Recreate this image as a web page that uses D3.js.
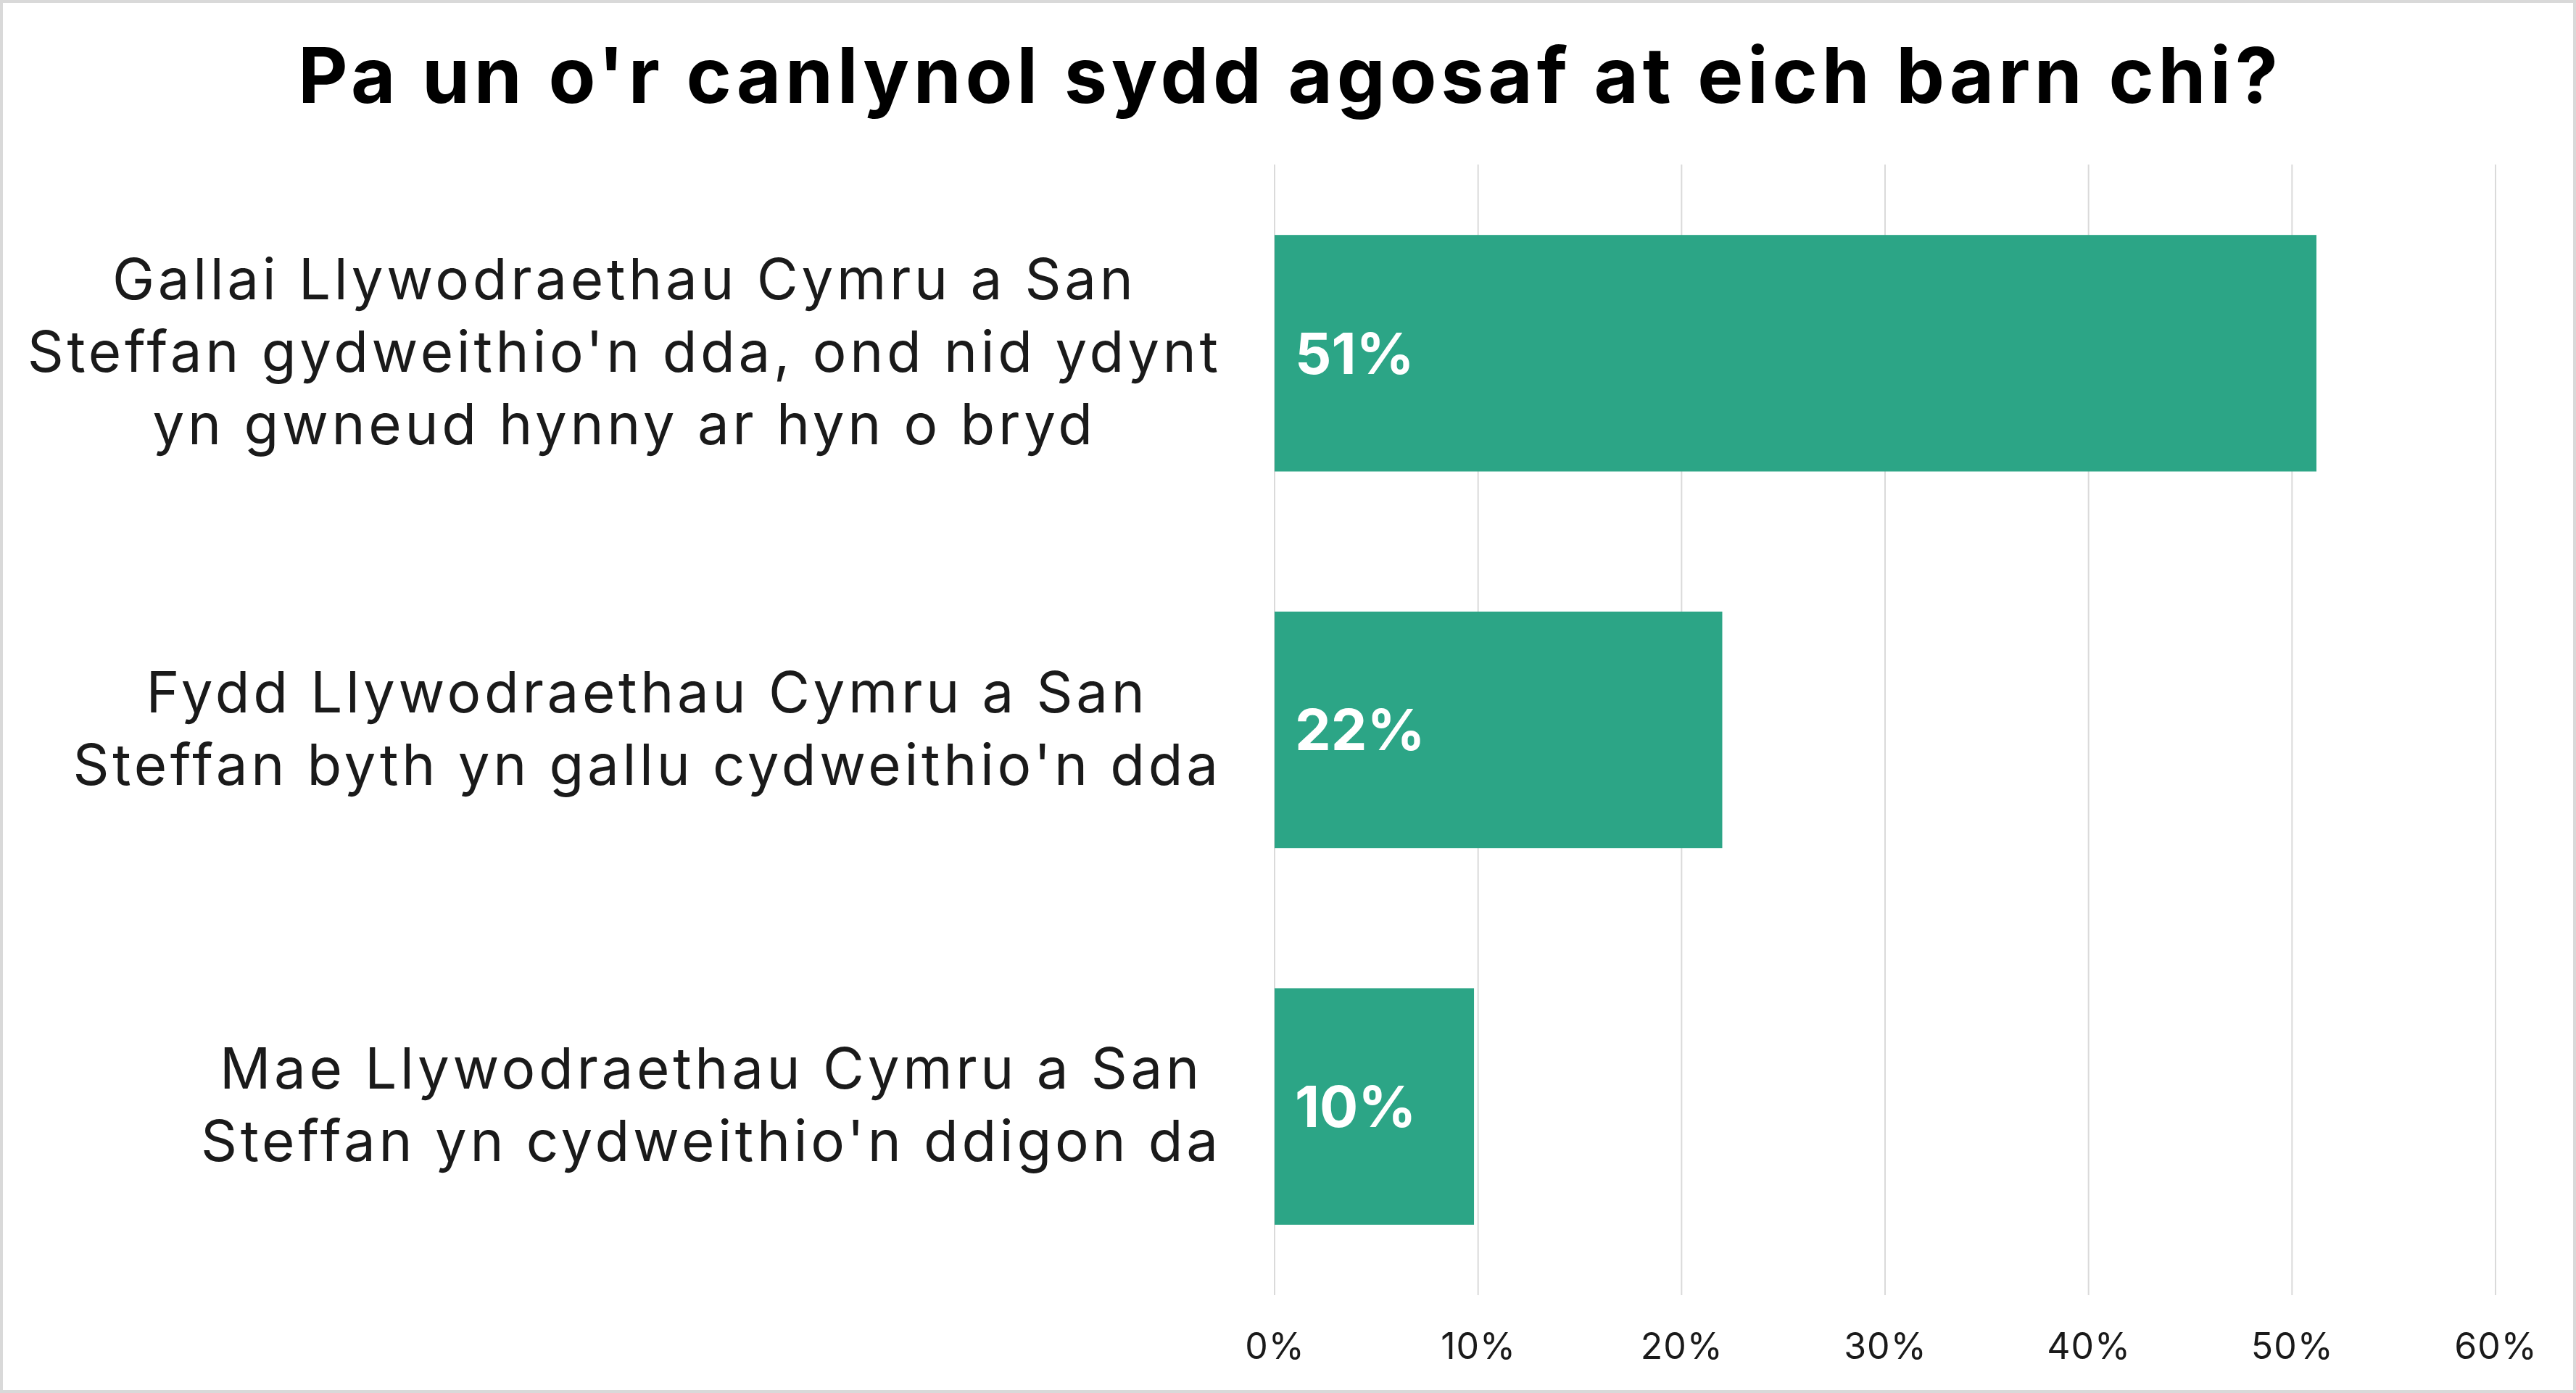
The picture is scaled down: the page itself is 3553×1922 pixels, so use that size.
<!DOCTYPE html>
<html>
<head>
<meta charset="utf-8">
<script src="https://cdn.jsdelivr.net/npm/d3@7"></script>
<style>
  html, body { margin: 0; padding: 0; background: #ffffff; }
  svg { display: block; }
</style>
</head>
<body>
<div id="chart"></div>
<script>
// ---------- data ----------
const titleText = "Pa un o'r canlynol sydd agosaf at eich barn chi?";
const categories = [
  "Gallai Llywodraethau Cymru a San Steffan gydweithio'n dda, ond nid ydynt yn gwneud hynny ar hyn o bryd",
  "Fydd Llywodraethau Cymru a San Steffan byth yn gallu cydweithio'n dda",
  "Mae Llywodraethau Cymru a San Steffan yn cydweithio'n ddigon da"
];
const categoryLines = [
  ["Gallai Llywodraethau Cymru a San", "Steffan gydweithio'n dda, ond nid ydynt", "yn gwneud hynny ar hyn o bryd"],
  ["Fydd Llywodraethau Cymru a San", "Steffan byth yn gallu cydweithio'n dda"],
  ["Mae Llywodraethau Cymru a San", "Steffan yn cydweithio'n ddigon da"]
];
const values = [51.2, 22.0, 9.8];
const valueLabels = ["51%", "22%", "10%"];
const tickValues = [0, 10, 20, 30, 40, 50, 60];
const tickLabels = ["0%", "10%", "20%", "30%", "40%", "50%", "60%"];

// ---------- layout ----------
const W = 3553, H = 1922;
const FONT = "Inter, 'Open Sans', 'Noto Sans', sans-serif";
const plotLeft = 1758, plotRight = 3442, plotTop = 227, plotBottom = 1787;
const barColor = "#2ca586";
const gridColor = "#dadada";

const svg = d3.select("#chart").append("svg")
  .attr("width", W).attr("height", H)
  .attr("viewBox", `0 0 ${W} ${H}`);

svg.append("rect")
  .attr("x", 2).attr("y", 2).attr("width", W - 4).attr("height", H - 4)
  .attr("fill", "#ffffff").attr("stroke", "#d9d9d9").attr("stroke-width", 4);

const x = d3.scaleLinear().domain([0, 60]).range([plotLeft, plotRight]);
const y = d3.scaleBand().domain(categories).range([plotTop, plotBottom])
  .paddingInner(0.372).paddingOuter(0.187);

// gridlines
svg.append("g").selectAll("line").data(tickValues).join("line")
  .attr("x1", d => x(d)).attr("x2", d => x(d))
  .attr("y1", plotTop).attr("y2", plotBottom)
  .attr("stroke", gridColor).attr("stroke-width", 2);

// x axis tick labels
const xAxis = d3.axisBottom(x)
  .tickValues(tickValues)
  .tickFormat((d, i) => tickLabels[i])
  .tickSize(0).tickPadding(52);
const gx = svg.append("g").attr("transform", `translate(0,${plotBottom})`).call(xAxis);
gx.select(".domain").remove();
gx.selectAll("text")
  .attr("font-family", FONT).attr("font-size", 50).attr("fill", "#1a1a1a")
  .attr("letter-spacing", 1);

// bars
svg.append("g").selectAll("rect").data(values).join("rect")
  .attr("x", x(0))
  .attr("y", (d, i) => y(categories[i]))
  .attr("width", d => x(d) - x(0))
  .attr("height", y.bandwidth())
  .attr("fill", barColor);

// value labels
svg.append("g").selectAll("text").data(valueLabels).join("text")
  .attr("x", x(0) + 28)
  .attr("y", (d, i) => y(categories[i]) + y.bandwidth() / 2)
  .attr("dy", "0.36em")
  .attr("font-family", FONT).attr("font-weight", 700).attr("font-size", 79)
  .attr("fill", "#ffffff")
  .text(d => d);

// category labels (block right-aligned, lines centred)
const labelRight = 1680;
const lineGap = 100;
const catFont = 78;
const catTargetWidth = 1647; // width of the longest line
const catG = svg.append("g");
const allCatTexts = [];
categoryLines.forEach((lines, i) => {
  const cy = y(categories[i]) + y.bandwidth() / 2;
  const texts = catG.append("g").selectAll("text").data(lines).join("text")
    .attr("font-family", FONT).attr("font-size", catFont).attr("fill", "#1a1a1a")
    .attr("text-anchor", "middle")
    .attr("y", (d, j) => cy + (j - (lines.length - 1) / 2) * lineGap)
    .attr("dy", "0.33em")
    .text(d => d);
  allCatTexts.push(texts);
});
// widen letter spacing so the longest line matches the reference width
let longest = null, longestW = 0;
allCatTexts.forEach(t => t.each(function () {
  const w = this.getComputedTextLength();
  if (w > longestW) { longestW = w; longest = this; }
}));
const catLS = (catTargetWidth - longestW) / longest.textContent.length;
allCatTexts.forEach(texts => {
  texts.attr("letter-spacing", catLS);
  let maxW = 0;
  texts.each(function () { maxW = Math.max(maxW, this.getComputedTextLength() - catLS); });
  texts.attr("x", labelRight - maxW / 2 + catLS / 2);
});

// title
const title = svg.append("text")
  .attr("x", W / 2).attr("y", 142)
  .attr("text-anchor", "middle")
  .attr("font-family", FONT).attr("font-weight", 700).attr("font-size", 106)
  .attr("fill", "#000000")
  .text(titleText);
const titleTarget = 2737;
const tw = title.node().getComputedTextLength();
const tLS = (titleTarget - tw) / titleText.length;
title.attr("letter-spacing", tLS).attr("x", W / 2 + tLS / 2);
</script>
</body>
</html>
